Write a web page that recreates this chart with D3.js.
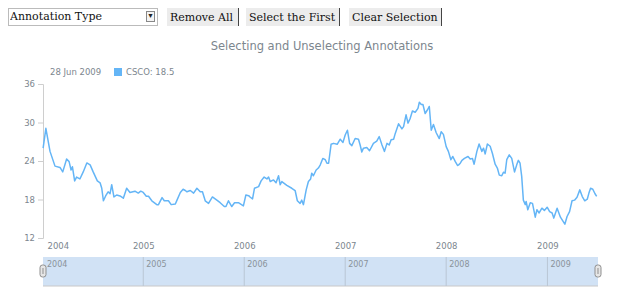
<!DOCTYPE html>
<html>
  <head>
    <title>Selecting and Unselecting Annotations</title>
    <script src="https://d3js.org/d3.v7.min.js"></script>
    <style>
      body {
        margin: 0;
        width: 620px;
        height: 300px;
        background-color: white;
        position: relative;
        overflow: hidden;
      }

      svg {
        position: absolute;
        left: 0;
        top: 0;
      }

      .ctrl {
        position: absolute;
        top: 8px;
        height: 18px;
        font-family: "DejaVu Serif", serif;
        font-size: 11px;
        color: #111;
        box-sizing: border-box;
        white-space: nowrap;
        overflow: hidden;
      }

      #type {
        left: 8px;
        width: 150px;
        -webkit-appearance: none;
        appearance: none;
        background: white;
        border: 1px solid #bbb;
        padding: 0 0 0 1px;
        line-height: 16px;
      }

      #arrow {
        position: absolute;
        left: 146px;
        top: 11px;
        width: 9px;
        height: 11px;
        border: 1px solid #888;
        box-sizing: border-box;
        font-size: 7px;
        line-height: 9px;
        text-align: center;
        color: #222;
        background: #f4f4f4;
      }

      button.ctrl {
        background-color: #ececec;
        border: none;
        border-right: 1px solid #444;
        padding: 0 0 0 3px;
        text-align: left;
      }

      .axis text {
        font-family: "DejaVu Sans", sans-serif;
        font-size: 8.5px;
        fill: #7c868e;
      }
    </style>
  </head>
  <body>
    <select id="type" class="ctrl"><option>Annotation Type</option></select>
    <span id="arrow">&#9660;</span>
    <button class="ctrl" style="left: 167px; width: 72px;">Remove All</button>
    <button class="ctrl" style="left: 246px; width: 94px;">Select the First</button>
    <button class="ctrl" style="left: 349px; width: 93px;">Clear Selection</button>
    <script>
      // CSCO closes
      const dates = [
        '2004-01-05', '2004-01-15', '2004-01-30', '2004-02-17', '2004-03-06', '2004-03-16',
        '2004-03-30', '2004-04-08', '2004-04-15', '2004-04-20', '2004-04-28', '2004-05-05',
        '2004-05-17', '2004-05-29', '2004-06-11', '2004-06-23', '2004-07-04', '2004-07-19',
        '2004-07-29', '2004-08-04', '2004-08-10', '2004-08-18', '2004-08-27', '2004-09-03',
        '2004-09-09', '2004-09-17', '2004-09-27', '2004-10-09', '2004-10-21', '2004-11-02',
        '2004-11-14', '2004-12-02', '2004-12-14', '2004-12-23',
        '2005-01-01', '2005-01-12', '2005-01-20', '2005-02-01', '2005-02-19', '2005-02-25',
        '2005-03-10', '2005-03-18', '2005-04-02', '2005-04-12', '2005-04-27', '2005-05-03',
        '2005-05-15', '2005-05-25', '2005-06-02', '2005-06-08', '2005-06-20', '2005-07-02',
        '2005-07-14', '2005-07-26', '2005-08-03', '2005-08-13', '2005-08-25', '2005-09-08',
        '2005-09-24', '2005-10-06', '2005-10-21', '2005-10-27', '2005-11-05', '2005-11-17',
        '2005-11-27', '2005-12-11', '2005-12-29',
        '2006-01-07', '2006-01-17', '2006-01-23', '2006-01-31', '2006-02-07', '2006-02-22',
        '2006-03-03', '2006-03-14', '2006-03-24', '2006-03-30', '2006-04-05', '2006-04-17',
        '2006-04-26', '2006-05-05', '2006-05-11', '2006-05-17', '2006-06-04', '2006-06-22',
        '2006-07-04', '2006-07-12', '2006-07-22', '2006-07-28', '2006-08-03', '2006-08-13',
        '2006-08-21', '2006-08-29', '2006-09-02', '2006-09-08', '2006-09-18', '2006-09-26',
        '2006-10-03', '2006-10-12', '2006-10-21', '2006-10-27', '2006-11-02', '2006-11-11',
        '2006-11-20', '2006-12-03', '2006-12-14', '2006-12-24',
        '2007-01-01', '2007-01-09', '2007-01-17', '2007-01-25', '2007-02-06', '2007-02-18',
        '2007-02-24', '2007-03-02', '2007-03-08', '2007-03-20', '2007-03-30', '2007-04-13',
        '2007-04-25', '2007-05-04', '2007-05-14', '2007-05-23', '2007-06-01', '2007-06-09',
        '2007-06-16', '2007-06-25', '2007-07-01', '2007-07-13', '2007-07-25', '2007-07-31',
        '2007-08-09', '2007-08-16', '2007-08-24', '2007-09-01', '2007-09-11', '2007-09-21',
        '2007-09-26', '2007-10-03', '2007-10-09', '2007-10-17', '2007-10-25', '2007-11-01',
        '2007-11-08', '2007-11-16', '2007-11-26', '2007-12-07', '2007-12-14', '2007-12-22',
        '2008-01-01', '2008-01-09', '2008-01-18', '2008-01-25', '2008-02-03', '2008-02-11',
        '2008-02-15', '2008-02-21', '2008-02-27', '2008-03-07', '2008-03-20', '2008-03-28',
        '2008-04-05', '2008-04-11', '2008-04-21', '2008-04-29', '2008-05-09', '2008-05-15',
        '2008-05-21', '2008-05-29', '2008-06-08', '2008-06-16', '2008-06-26', '2008-07-04',
        '2008-07-11', '2008-07-20', '2008-07-26', '2008-08-01', '2008-08-07', '2008-08-16',
        '2008-08-25', '2008-09-04', '2008-09-12', '2008-09-18', '2008-09-24', '2008-09-30',
        '2008-10-06', '2008-10-13', '2008-10-16', '2008-10-22', '2008-10-31', '2008-11-08',
        '2008-11-18', '2008-11-24', '2008-12-02', '2008-12-12', '2008-12-21', '2008-12-31',
        '2009-01-09', '2009-01-18', '2009-01-24', '2009-02-05', '2009-02-17', '2009-02-25',
        '2009-03-05', '2009-03-13', '2009-03-22', '2009-03-31', '2009-04-09', '2009-04-18',
        '2009-04-28', '2009-05-07', '2009-05-16', '2009-05-25', '2009-05-31', '2009-06-06',
        '2009-06-14', '2009-06-22', '2009-06-28'
      ];
      const values = [
        26.0, 29.1, 25.5, 23.2, 23.0, 22.3,
        24.3, 23.9, 22.6, 23.1, 20.9, 21.5,
        21.2, 22.3, 23.7, 23.4, 22.3, 20.9,
        20.6, 19.75, 17.8, 18.55, 19.2, 18.9,
        20.3, 18.4, 18.7, 18.55, 18.2, 19.75,
        19.1, 19.3, 19.0, 19.3,
        19.1, 18.5, 18.5, 17.8, 17.2, 17.2,
        18.3, 17.8, 17.8, 17.2, 17.3, 17.9,
        19.1, 19.6, 19.4, 19.2, 19.4, 19.0,
        19.75, 19.2, 19.2, 17.8, 17.4, 18.4,
        17.9, 17.5, 16.9, 16.9, 17.8, 16.9,
        17.5, 17.5, 17.0,
        18.7, 18.6, 18.35, 18.1, 19.75, 20.0,
        20.9, 21.5, 21.2, 21.5, 20.8, 21.05,
        20.6, 21.7, 20.3, 20.8, 20.2, 19.75,
        19.4, 17.8, 17.4, 17.9, 17.2, 19.5,
        20.8, 21.2, 22.1, 21.7, 22.6, 22.9,
        23.4, 24.4, 24.2, 23.65, 23.65, 26.6,
        26.75, 26.6, 27.4, 26.9,
        28.05, 28.8, 26.75, 26.4, 27.5, 27.4,
        26.5, 25.4, 26.0, 26.1, 25.6, 26.75,
        27.1, 27.8, 26.5, 25.5, 26.75, 26.5,
        27.3, 27.4, 28.3, 29.8, 29.0, 29.35,
        31.2, 29.9, 30.65, 31.8, 31.6, 32.2,
        33.15, 32.8, 32.8, 31.4, 31.95, 32.5,
        28.8, 29.7, 28.4, 27.5, 28.55, 28.15,
        26.25, 25.5, 24.2, 24.7, 23.9, 23.3,
        23.4, 23.65, 24.1, 24.4, 24.7, 24.3,
        24.4, 23.5, 25.5, 26.65, 25.5, 26.0,
        25.1, 26.65, 26.3, 25.2, 23.5, 22.9,
        21.8, 21.7, 22.25, 22.1, 24.2, 24.95,
        24.4, 22.3, 23.4, 24.1, 23.65, 21.6,
        17.9, 17.2, 17.7, 16.4, 17.5, 17.4,
        15.25, 16.4, 15.9, 16.65, 16.3, 16.8,
        16.1, 15.9, 15.1, 16.65, 15.25, 14.7,
        14.15, 15.35, 16.1, 17.8, 17.9, 18.35,
        19.5, 18.45, 17.8, 18.05, 19.0, 19.75,
        19.6, 18.9, 18.5
      ];
      const yTicks = [12, 18, 24, 30, 36];
      const years = ['2004', '2005', '2006', '2007', '2008', '2009'];

      const w = 620;
      const h = 300;
      const parseDate = d3.timeParse('%Y-%m-%d');
      const parseYear = d3.timeParse('%Y');
      const formatDay = d3.timeFormat('%d %b %Y');

      const data = dates.map((d, i) => ({ date: parseDate(d), value: values[i] }));
      const last = data[data.length - 1];

      const xScale = d3.scaleTime()
                       .domain([parseDate('2004-01-01'), parseDate('2009-07-01')])
                       .range([42, 597.5]);

      const yScale = d3.scaleLinear()
                       .domain([12, 36])
                       .range([238, 84]);

      const svg = d3.select('body')
                    .append('svg')
                    .attr('width', w)
                    .attr('height', h);

      svg.append('text')
         .attr('x', 322)
         .attr('y', 50)
         .attr('text-anchor', 'middle')
         .style('font-family', 'DejaVu Sans, sans-serif')
         .style('font-size', '11.5px')
         .style('fill', '#7c868e')
         .text('Selecting and Unselecting Annotations');

      // legend
      const legend = svg.append('g')
                        .style('font-family', 'DejaVu Sans, sans-serif')
                        .style('font-size', '8.5px')
                        .style('fill', '#7c868e');
      legend.append('text')
            .attr('x', 50)
            .attr('y', 75)
            .text(formatDay(last.date));
      legend.append('rect')
            .attr('x', 114)
            .attr('y', 68)
            .attr('width', 8)
            .attr('height', 8)
            .attr('fill', '#64b5f6');
      legend.append('text')
            .attr('x', 126)
            .attr('y', 75)
            .text(`CSCO: ${last.value}`);

      const yAxis = d3.axisLeft(yScale)
                      .tickValues(yTicks)
                      .tickSize(5)
                      .tickPadding(3);

      const yG = svg.append('g')
                    .attr('class', 'axis')
                    .attr('transform', 'translate(43, 0)')
                    .call(yAxis);
      yG.selectAll('line, path').attr('stroke', '#cecece');

      const xAxis = d3.axisBottom(xScale)
                      .tickValues(years.map(parseYear))
                      .tickFormat(d3.timeFormat('%Y'))
                      .tickSize(0)
                      .tickPadding(5);

      const xG = svg.append('g')
                    .attr('class', 'axis')
                    .attr('transform', 'translate(0, 238)')
                    .call(xAxis);
      xG.select('.domain').remove();
      xG.select('.tick text')
        .attr('text-anchor', 'start')
        .attr('x', 5);

      const line = d3.line()
                     .x(d => xScale(d.date))
                     .y(d => yScale(d.value));

      svg.append('path')
         .datum(data)
         .attr('d', line)
         .attr('fill', 'none')
         .attr('stroke', '#64b5f6')
         .attr('stroke-width', 1.5)
         .attr('stroke-linejoin', 'round');

      // scroller / navigator
      const nav = svg.append('g');
      nav.append('rect')
         .attr('x', 43)
         .attr('y', 257)
         .attr('width', 555)
         .attr('height', 29)
         .attr('fill', '#d1e2f5');
      nav.append('line')
         .attr('x1', 43)
         .attr('x2', 598)
         .attr('y1', 286)
         .attr('y2', 286)
         .attr('stroke', '#c8c8c8');

      nav.selectAll('.grid')
         .data(years.slice(1))
         .enter()
         .append('line')
         .attr('x1', d => xScale(parseYear(d)))
         .attr('x2', d => xScale(parseYear(d)))
         .attr('y1', 257)
         .attr('y2', 286)
         .attr('stroke', '#b9c6d4');

      nav.selectAll('.navlabel')
         .data(years)
         .enter()
         .append('text')
         .attr('x', d => Math.max(xScale(parseYear(d)), 44) + 3)
         .attr('y', 267)
         .style('font-family', 'DejaVu Sans, sans-serif')
         .style('font-size', '8px')
         .style('fill', '#8a939a')
         .text(d => d);

      [43, 598].forEach(x => {
        nav.append('rect')
           .attr('x', x - 3)
           .attr('y', 265)
           .attr('width', 6)
           .attr('height', 12)
           .attr('rx', 2.5)
           .attr('fill', '#e6e6e6')
           .attr('stroke', '#8f8f8f');
        nav.append('line')
           .attr('x1', x)
           .attr('x2', x)
           .attr('y1', 268)
           .attr('y2', 274)
           .attr('stroke', '#8f8f8f');
      });
    </script>
  </body>
</html>
